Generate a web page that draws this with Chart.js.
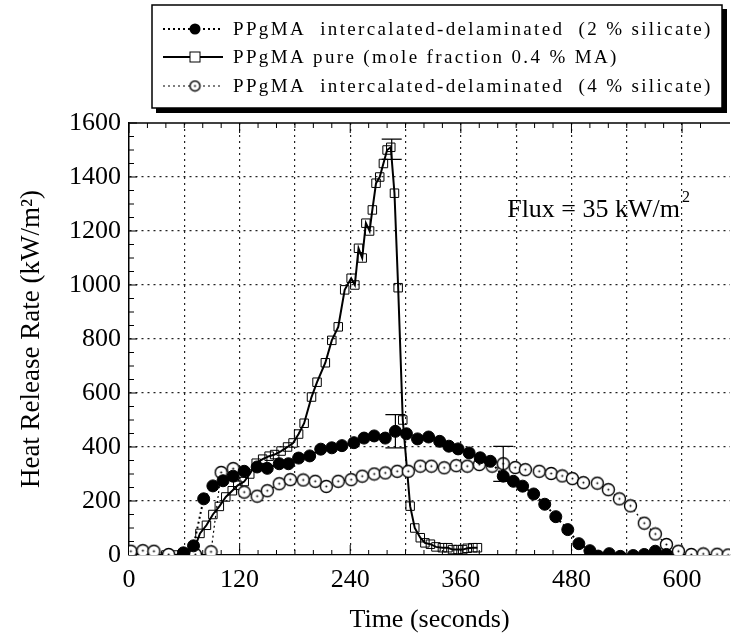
<!DOCTYPE html>
<html>
<head>
<meta charset="utf-8">
<script src="https://cdn.jsdelivr.net/npm/chart.js@4"></script>
<style>
  html, body { margin: 0; padding: 0; background: #fff; }
  #wrap { width: 740px; height: 641px; }
</style>
</head>
<body>
<div id="wrap"><canvas id="myChart"></canvas></div>
<script>
const ctx = document.getElementById("myChart");

// PPgMA pure (squares, solid line)
const timePure = [3, 15, 27, 40, 52, 62, 70, 77, 84, 91, 98, 105, 112, 118, 125, 131, 138, 145, 152, 158, 165, 172, 178, 184, 190, 198, 204, 213, 220, 227, 234, 241, 245, 249, 253, 257, 261, 264, 268, 272, 276, 280, 284, 288, 292, 297, 305, 310, 316, 321, 327, 333, 340, 346, 351, 357, 362, 367, 373, 378];
const hrrPure = [5, 5, 2, 0, 0, 2, 15, 80, 110, 150, 180, 215, 238, 258, 272, 300, 340, 355, 366, 372, 385, 400, 415, 448, 488, 585, 640, 712, 795, 845, 982, 1025, 1000, 1136, 1100, 1229, 1200, 1278, 1377, 1400, 1450, 1500, 1510, 1340, 990, 500, 181, 100, 64, 45, 40, 30, 27, 27, 20, 20, 20, 25, 27, 27];

// 2 % silicate (filled circles, dotted line)
const time2 = [59, 70, 81, 91, 102, 113, 125, 139, 150, 163, 173, 184, 196, 208, 220, 231, 244, 255, 266, 278, 289, 301, 313, 325, 337, 347, 357, 369, 381, 392, 406, 417, 427, 439, 451, 463, 476, 488, 500, 509, 521, 533, 547, 559, 571, 583];
const hrr2 = [8, 34, 208, 256, 275, 292, 310, 326, 321, 338, 338, 359, 367, 392, 397, 405, 416, 433, 441, 433, 458, 449, 430, 437, 421, 403, 393, 378, 360, 347, 292, 273, 255, 226, 188, 142, 94, 42, 16, -4, 5, -5, -2, 2, 14, 2];

// 4 % silicate (open circles, dotted line)
const time4 = [2, 15, 27, 43, 72, 89, 100, 113, 125, 139, 150, 163, 175, 189, 202, 214, 227, 241, 253, 266, 278, 291, 303, 316, 328, 342, 355, 367, 380, 394, 406, 419, 430, 445, 458, 470, 481, 493, 508, 520, 532, 544, 559, 571, 583, 596, 610, 623, 638, 650];
const hrr4 = [14, 16, 14, 2, 2, 12, 306, 320, 233, 218, 238, 264, 279, 278, 273, 254, 273, 279, 292, 300, 304, 310, 310, 329, 329, 323, 331, 329, 335, 329, 338, 324, 316, 310, 302, 293, 283, 268, 266, 242, 208, 182, 118, 78, 39, 14, 2, 4, 3, 0];

// error bars
const errTime = [285, 289, 406];
const errLow = [1465, 397, 273];
const errHigh = [1540, 520, 402];

const xLabels = [0, 120, 240, 360, 480, 600];
const yLabels = [0, 200, 400, 600, 800, 1000, 1200, 1400, 1600];
const legendLabels = [
  "PPgMA  intercalated-delaminated  (2 % silicate)",
  "PPgMA pure (mole fraction 0.4 % MA)",
  "PPgMA  intercalated-delaminated  (4 % silicate)",
];

const SERIF = "'Liberation Serif', 'Times New Roman', serif";

function openCircle(r) {
  const c = document.createElement("canvas");
  const s = r * 2 + 3;
  c.width = s;
  c.height = s;
  const g = c.getContext("2d");
  g.beginPath();
  g.arc(s / 2, s / 2, r, 0, Math.PI * 2);
  g.fillStyle = "#fff";
  g.fill();
  g.lineWidth = 1.4;
  g.strokeStyle = "#000";
  g.stroke();
  g.beginPath();
  g.arc(s / 2, s / 2, 1, 0, Math.PI * 2);
  g.fillStyle = "#000";
  g.fill();
  return c;
}
const openDot = openCircle(6);
const openDotSmall = openCircle(5);

const toXY = (xs, ys) => xs.map((x, i) => ({ x: x, y: ys[i] }));

const datasets = [
  {
    label: legendLabels[0],
    data: toXY(time2, hrr2),
    borderColor: "#000",
    borderWidth: 2,
    borderDash: [2, 3],
    pointStyle: "circle",
    pointRadius: 6,
    pointBackgroundColor: "#000",
    pointBorderColor: "#000",
    pointBorderWidth: 1,
  },
  {
    label: legendLabels[2],
    data: toXY(time4, hrr4),
    borderColor: "#000",
    borderWidth: 1.2,
    borderDash: [2, 3],
    pointStyle: openDot,
    pointRadius: 6,
  },
  {
    label: legendLabels[1],
    data: toXY(timePure, hrrPure),
    borderColor: "#000",
    borderWidth: 2,
    pointStyle: "rect",
    pointRadius: 6,
    pointBackgroundColor: "rgba(0,0,0,0)",
    pointBorderColor: "#000",
    pointBorderWidth: 1,
  },
];

const frame = {
  id: "frame",
  beforeDatasetsDraw(chart) {
    const { ctx: c, chartArea: a, scales } = chart;
    c.save();
    c.strokeStyle = "#000";
    c.lineWidth = 1.3;
    // top border
    c.beginPath();
    c.moveTo(a.left, a.top);
    c.lineTo(a.right, a.top);
    c.stroke();
    // inward ticks
    c.lineWidth = 1;
    scales.x.ticks.forEach(t => {
      if (t.value % 20 !== 0) return;
      const px = scales.x.getPixelForValue(t.value);
      const len = t.value % 120 === 0 ? 10 : 5;
      c.beginPath();
      c.moveTo(px, a.bottom);
      c.lineTo(px, a.bottom - len);
      c.moveTo(px, a.top);
      c.lineTo(px, a.top + len);
      c.stroke();
    });
    scales.y.ticks.forEach(t => {
      const py = scales.y.getPixelForValue(t.value);
      const len = t.value % 200 === 0 ? 8 : 5;
      c.beginPath();
      c.moveTo(a.left, py);
      c.lineTo(a.left + len, py);
      c.stroke();
    });
    c.restore();
  },
  afterDatasetsDraw(chart) {
    const { ctx: c, scales } = chart;
    c.save();
    c.strokeStyle = "#000";
    c.lineWidth = 1.2;
    errTime.forEach((t, i) => {
      const px = scales.x.getPixelForValue(t);
      const lo = scales.y.getPixelForValue(errLow[i]);
      const hi = scales.y.getPixelForValue(errHigh[i]);
      c.beginPath();
      c.moveTo(px, lo);
      c.lineTo(px, hi);
      c.moveTo(px - 10, lo);
      c.lineTo(px + 10, lo);
      c.moveTo(px - 10, hi);
      c.lineTo(px + 10, hi);
      c.stroke();
    });
    c.restore();
  },
  afterDraw(chart) {
    const c = chart.ctx;
    c.save();
    // annotation, "m" ends near x = 680
    c.fillStyle = "#000";
    c.font = "26px " + SERIF;
    c.textBaseline = "alphabetic";
    c.textAlign = "right";
    c.fillText("Flux = 35 kW/m", 680, 217);
    c.textAlign = "left";
    c.font = "16px " + SERIF;
    c.fillText("2", 682, 202);

    // legend box
    const bx = 152, by = 5, bw = 570, bh = 103;
    c.fillStyle = "#fff";
    c.fillRect(bx, by, bw, bh);
    c.strokeStyle = "#000";
    c.lineWidth = 1.5;
    c.strokeRect(bx, by, bw, bh);
    c.fillStyle = "#000";
    c.fillRect(bx + bw, by + 4, 5, bh + 1);
    c.fillRect(bx + 4, by + bh, bw + 1, 5);

    const rows = [29, 57, 86];
    const order = [0, 2, 1];
    c.font = "19px " + SERIF;
    const w0 = c.measureText(legendLabels[0]).width;
    const spacing = Math.max(0, (480 - w0) / legendLabels[0].length);
    rows.forEach((ry, i) => {
      const ds = chart.data.datasets[order[i]];
      c.save();
      c.strokeStyle = "#000";
      c.lineWidth = ds.borderWidth;
      c.setLineDash(ds.borderDash || []);
      c.beginPath();
      c.moveTo(163, ry);
      c.lineTo(223, ry);
      c.stroke();
      c.restore();
      if (ds.pointStyle === "circle") {
        c.fillStyle = "#000";
        c.beginPath();
        c.arc(195, ry, 5.5, 0, Math.PI * 2);
        c.fill();
      } else if (ds.pointStyle === "rect") {
        c.fillStyle = "#fff";
        c.fillRect(190, ry - 5, 10, 10);
        c.strokeStyle = "#000";
        c.lineWidth = 1;
        c.strokeRect(190, ry - 5, 10, 10);
      } else {
        c.drawImage(openDotSmall, 195 - openDotSmall.width / 2, ry - openDotSmall.height / 2);
      }
      c.save();
      c.fillStyle = "#000";
      c.font = "19px " + SERIF;
      c.textBaseline = "middle";
      c.textAlign = "left";
      c.letterSpacing = spacing.toFixed(2) + "px";
      c.fillText(legendLabels[i], 233, ry + 1);
      c.restore();
    });
    c.restore();
  },
};

new Chart(ctx, {
  type: "line",
  data: { datasets: datasets },
  options: {
    responsive: true,
    maintainAspectRatio: false,
    animation: false,
    layout: { padding: { top: 123, right: 0, left: 0, bottom: 0 } },
    plugins: {
      legend: { display: false },
      tooltip: { enabled: false },
    },
    elements: { line: { tension: 0 } },
    scales: {
      x: {
        type: "linear",
        min: 0,
        max: 652,
        afterFit: s => { s.height = 86; },
        ticks: {
          stepSize: 20,
          autoSkip: false,
          maxRotation: 0,
          padding: 10,
          color: "#000",
          font: { family: SERIF, size: 26 },
          callback: v => (xLabels.includes(v) ? String(v) : ""),
        },
        grid: {
          drawTicks: false,
          lineWidth: 1.2,
          color: c => (c.tick && c.tick.value % 60 === 0 && c.tick.value > 0 && c.tick.value < 652 ? "#222" : "rgba(0,0,0,0)"),
        },
        border: { display: true, color: "#000", width: 1.2, dash: [2, 4] },
        title: {
          display: true,
          text: "Time (seconds)",
          color: "#000",
          font: { family: SERIF, size: 26 },
          padding: { top: 0, bottom: 5 },
        },
      },
      y: {
        min: 0,
        max: 1600,
        afterFit: s => { s.width = 129; },
        ticks: {
          stepSize: 50,
          autoSkip: false,
          padding: 8,
          color: "#000",
          font: { family: SERIF, size: 26 },
          callback: v => (yLabels.includes(v) ? String(v) : ""),
        },
        grid: {
          drawTicks: false,
          lineWidth: 1.2,
          color: c => (c.tick && c.tick.value % 200 === 0 && c.tick.value > 0 && c.tick.value < 1600 ? "#222" : "rgba(0,0,0,0)"),
        },
        border: { display: true, color: "#000", width: 1.5, dash: [2, 4] },
        title: {
          display: true,
          text: "Heat Release Rate (kW/m²)",
          color: "#000",
          font: { family: SERIF, size: 27 },
          padding: { top: 16, bottom: 0 },
        },
      },
    },
  },
  plugins: [frame],
});
</script>
</body>
</html>
